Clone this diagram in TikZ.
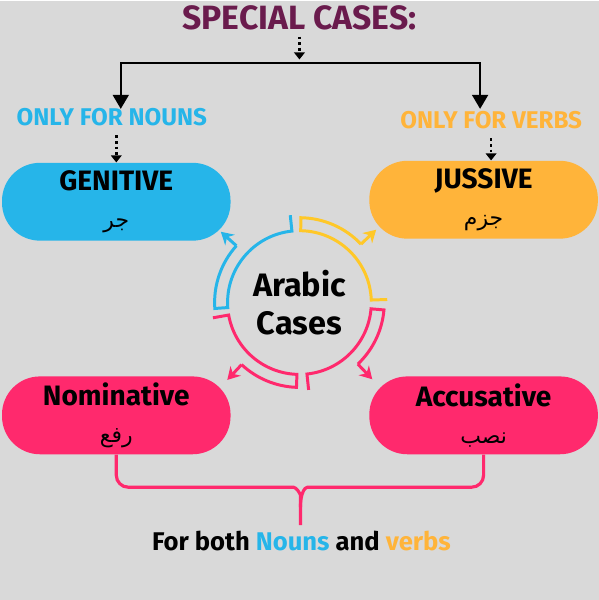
\documentclass[tikz,border=0pt]{standalone}
\usepackage{fontspec}
\setmainfont{Fira Sans}
\newfontfamily\arabicfont[Script=Arabic]{DejaVu Sans}
\TeXXeTstate=1
\usepackage{tikz}
\usetikzlibrary{arrows.meta,positioning,calc}
\definecolor{bgc}{RGB}{217,217,217}
\definecolor{plum}{RGB}{106,27,77}
\definecolor{sky}{RGB}{38,181,233}
\definecolor{amber}{RGB}{255,180,58}
\definecolor{rose}{RGB}{255,41,109}
\definecolor{sun}{RGB}{255,200,40}
\newcommand{\arb}[1]{{\arabicfont\mdseries\fontsize{12.5}{14}\selectfont\beginR #1\endR}}
\tikzset{
  casebox/.style={rounded corners=0.76cm,minimum width=4.58cm,minimum height=1.56cm,
    inner sep=0pt,align=center,font=\fontsize{16}{21}\selectfont\bfseries},
  tag/.style={font=\fontsize{13.8}{15}\selectfont\bfseries},
  link/.style={line width=1.4pt,-{Triangle[length=8pt,width=9pt]}},
  dots/.style={line width=1.6pt,dash pattern=on 1.6pt off 1.6pt,
    -{Triangle[length=4pt,width=6pt]}},
  ring/.style={line width=1.7pt},
}

\begin{document}
\begin{tikzpicture}[x=0.02cm,y=0.02cm]
  \fill[bgc] (0,0) rectangle (600,600);
  % heading and the split to both sides
  \node[plum,font=\fontsize{19.2}{21}\selectfont\bfseries] (title) at (300,583) {SPECIAL CASES:};
  \coordinate (split) at (300,538);
  \coordinate (nt) at (121,492);
  \coordinate (vt) at (481,492);
  \draw[dots,shorten >=2pt] (title) -- (split);
  \draw[link] (split) -| (nt);
  \draw[link] (split) -| (vt);
  \node[tag,sky] (nounlbl) at (112,484) {ONLY FOR NOUNS};
  \node[tag,amber] (verblbl) at (492,481) {ONLY FOR VERBS};
  % the four cases
  \node[casebox,fill=sky] (gen) at (116.5,399) {GENITIVE\\\arb{جر}};
  \node[casebox,fill=amber] (jus) at (484.5,401) {JUSSIVE\\\arb{جزم}};
  \node[casebox,fill=rose] (nom) at (116.5,185) {Nominative\\\arb{رفع}};
  \node[casebox,fill=rose] (acc) at (484.5,185) {Accusative\\\arb{نصب}};
  \draw[dots,shorten <=2pt] (nounlbl.south -| gen.north) -- (gen.north);
  \draw[dots,shorten <=2pt] (verblbl.south) -- (verblbl.south |- jus.north);
  % ring of hollow arrows round the centre
  \node[font=\fontsize{18.5}{22}\selectfont\bfseries,align=center] (core) at (300,298) {Arabic\\Cases};
  \foreach \s/\t/\c in {89/2/sun,184/96/sky,268/190/rose,-5/-84/rose}{
    \pgfmathsetmacro\m{(\s+\t)/2-2}
    \begin{scope}[shift={(core.center)}]
      \draw[ring,\c] (\m:85) arc[start angle=\m,end angle=\s,radius=85] -- (\s:72)
        arc[start angle=\s,end angle=\t,radius=72] -- (\t:88);
      \draw[ring,\c,-{Stealth[length=7pt,width=8pt]}] (\m:85) -- (\m:106);
    \end{scope}
  }
  % brace under the lower pair
  \draw[rose,line width=1.8pt,rounded corners=0.24cm] (nom.south) -- (116.5,113) -- (282,113)
    .. controls (297,113) and (301,106) .. (301,93) -- (301,75);
  \draw[rose,line width=1.8pt,rounded corners=0.24cm] (acc.south) -- (484.5,113) -- (320,113)
    .. controls (305,113) and (301,106) .. (301,93);
  \node[font=\fontsize{14.6}{16}\selectfont\bfseries] (both) at (302,59)
    {For both \textcolor{sky}{Nouns} and \textcolor{amber}{verbs}};
\end{tikzpicture}
\end{document}
